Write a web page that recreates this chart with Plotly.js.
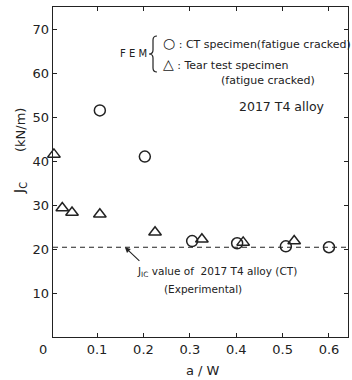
<!DOCTYPE html>
<html>
<head>
<meta charset="utf-8">
<script src="https://cdn.plot.ly/plotly-3.0.1.min.js"></script>
<style>html,body{margin:0;padding:0;background:#fff;}#chart{width:352px;height:380px;}</style>
</head>
<body>
<div id="chart"></div>
<script>
// Data
const ctX = [0.106, 0.203, 0.305, 0.402, 0.507, 0.600];
const ctY = [51.5, 41.0, 21.8, 21.3, 20.6, 20.4];
const tearX = [0.007, 0.025, 0.046, 0.106, 0.225, 0.326, 0.415, 0.525];
const tearY = [41.5, 29.3, 28.3, 27.9, 23.8, 22.2, 21.5, 21.8];
const jicX = [0.005, 0.641];
const jicY = [20.4, 20.4];
const xTicks = [0.1, 0.2, 0.3, 0.4, 0.5, 0.6];
const xTickText = ['0.1', '0.2', '0.3', '0.4', '0.5', '0.6'];
const yTicks = [10, 20, 30, 40, 50, 60, 70];

const INK = '#222';
const FONT = 'DejaVu Sans, sans-serif';
// layout geometry (pixels)
const L = 53, R = 4, T = 7, B = 43, W = 352, H = 380;
const pw = W - L - R, ph = H - T - B;
const px = x => (x - L) / pw;
const py = y => (H - B - y) / ph;

function txt(text, x, y, size, anchor, extra) {
  return Object.assign({
    text: text, xref: 'paper', yref: 'paper', x: px(x), y: py(y),
    xanchor: anchor || 'left', yanchor: 'middle', showarrow: false,
    font: {family: FONT, size: size, color: INK}
  }, extra || {});
}

// curly brace drawn as a path (pixel positions converted to paper coords)
function P(x, y) { return px(x).toFixed(4) + ',' + py(y).toFixed(4); }
const brace = 'M' + P(157, 36) + ' Q' + P(153, 36) + ' ' + P(153, 40) +
  ' L' + P(153, 50) + ' Q' + P(153, 54) + ' ' + P(149, 54) +
  ' Q' + P(153, 54) + ' ' + P(153, 58) + ' L' + P(153, 68) +
  ' Q' + P(153, 72) + ' ' + P(157, 72);

const traces = [
  {x: jicX, y: jicY, mode: 'lines', line: {color: INK, width: 1.2, dash: '5px,4px'}, hoverinfo: 'skip', cliponaxis: false},
  {x: ctX, y: ctY, mode: 'markers', cliponaxis: false,
   marker: {symbol: 'circle-open', size: 11, color: INK, line: {width: 1.5, color: INK}}},
  {x: tearX, y: tearY, mode: 'markers', cliponaxis: false,
   marker: {symbol: 'triangle-up-open', size: 11, color: INK, line: {width: 1.5, color: INK}}}
];

const layout = {
  width: W, height: H,
  margin: {l: L, r: R, t: T, b: B, pad: 0},
  paper_bgcolor: '#fff', plot_bgcolor: '#fff',
  showlegend: false,
  font: {family: FONT, color: INK},
  xaxis: {
    range: [0.005, 0.641], tickvals: xTicks, ticktext: xTickText,
    ticks: 'inside', ticklen: 4, tickwidth: 1, tickcolor: INK,
    showline: true, linecolor: INK, linewidth: 1.3, mirror: 'ticks',
    showgrid: false, zeroline: false,
    tickfont: {family: FONT, size: 13, color: INK}
  },
  yaxis: {
    range: [0, 75], tickvals: yTicks,
    ticks: 'inside', ticklen: 4, tickwidth: 1, tickcolor: INK,
    showline: true, linecolor: INK, linewidth: 1.3, mirror: 'ticks',
    showgrid: false, zeroline: false,
    tickfont: {family: FONT, size: 13, color: INK}
  },
  shapes: [
    {type: 'path', xref: 'paper', yref: 'paper', path: brace, line: {color: INK, width: 1.2}}
  ],
  annotations: [
    txt('0', 43, 349, 13, 'center'),
    txt('a / W', 203, 370, 13, 'center'),
    txt('(kN/m)', 20, 130, 13, 'center', {textangle: -90}),
    txt('J<sub>C</sub>', 20, 188, 14, 'center', {textangle: -90}),
    txt('F E M', 133, 53, 10, 'center'),
    txt('<span style="font-size:14px">○</span> : CT specimen(fatigue cracked)', 161, 43, 11, 'left'),
    txt('<span style="font-size:14px">△</span> : Tear test specimen', 161, 64, 11, 'left'),
    txt('(fatigue cracked)', 219, 80, 11, 'left'),
    txt('2017 T4 alloy', 237, 106, 12.5, 'left'),
    txt('J<sub>IC</sub> value of  2017 T4 alloy (CT)', 135, 272, 10.5, 'left'),
    txt('(Experimental)', 162, 289, 10.5, 'left'),
    {x: 0.16, y: 20.4, xref: 'x', yref: 'y', text: '', showarrow: true,
     ax: 16, ay: 15, arrowhead: 2, arrowsize: 1, arrowwidth: 1.1, arrowcolor: INK}
  ]
};

Plotly.newPlot('chart', traces, layout, {displayModeBar: false, staticPlot: true});
</script>
</body>
</html>
